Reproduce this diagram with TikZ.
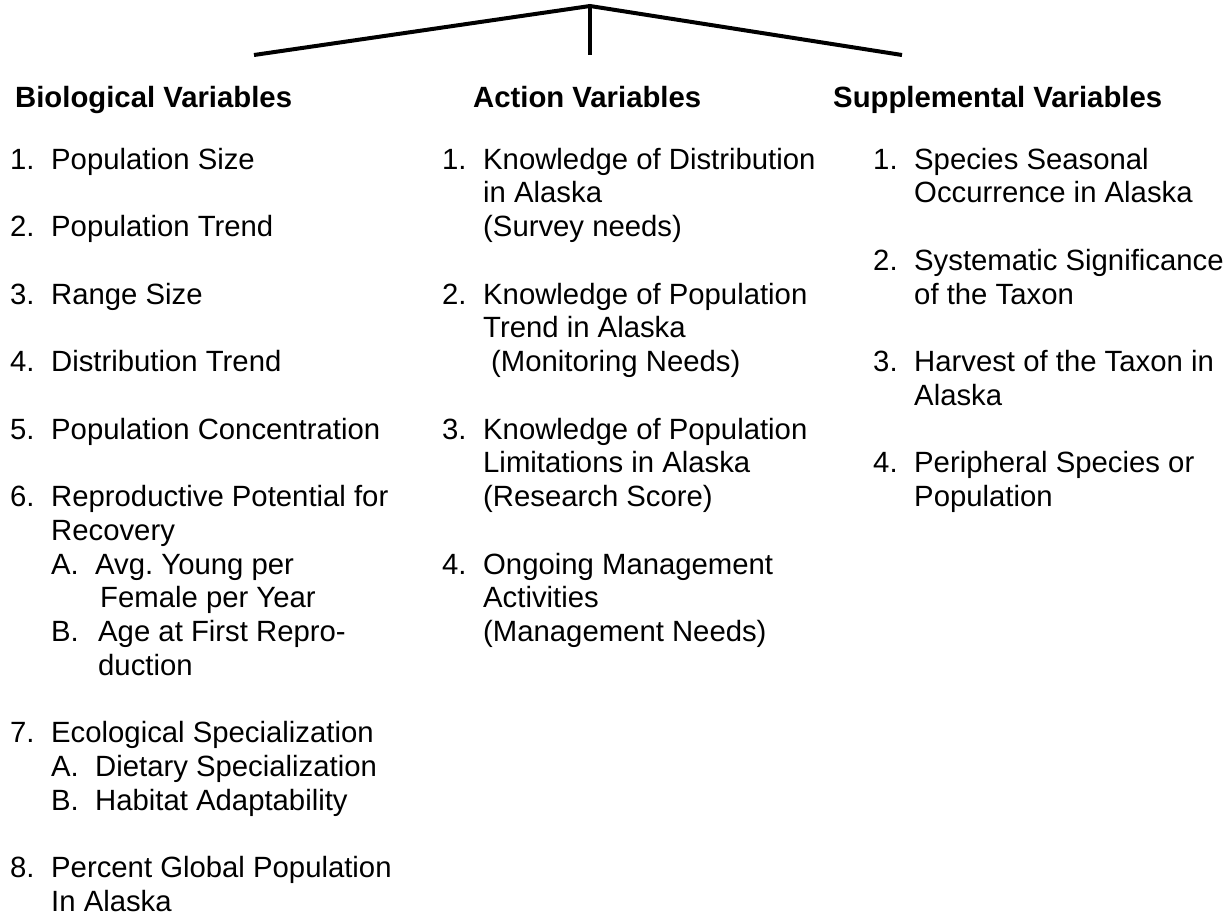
\documentclass[tikz,border=0pt]{standalone}
\usepackage{fontspec}
\setmainfont{Liberation Sans}
\usepackage{tikz}
\usetikzlibrary{positioning}
\frenchspacing

% number in a fixed-width box, then the lines of the entry
\newcommand{\numitem}[2]{\makebox[41pt][l]{#1}\begin{tabular}[t]{@{}l@{}}#2\end{tabular}}
\newcommand{\letteritem}[3]{\makebox[#1][l]{#2}#3}

\begin{document}
\begin{tikzpicture}[
    x=1pt, y=-1pt,
    every node/.style={font=\fontsize{29.3pt}{33.75pt}\selectfont, inner sep=0pt, anchor=base west},
    heading/.style={font=\fontsize{29.3pt}{33.75pt}\selectfont\bfseries},
    varitem/.style={align=left},
    branch/.style={line width=4pt, line cap=butt, line join=miter}
]
    \useasboundingbox[fill=white] (0,0) rectangle (1232,916);

    % === TREE AT THE TOP ===
    \coordinate (apex) at (590,6);
    \coordinate (bioend) at (254,55);
    \coordinate (actend) at (590,55);
    \coordinate (supend) at (902,55);
    \draw[branch] (bioend) -- (apex) -- (supend);
    \draw[line width=3.5pt] (apex) -- (actend);

    % === COLUMN HEADINGS ===
    \node[heading] (bio) at (15,107) {Biological Variables};
    \node[heading] (act) at (473,107) {Action Variables};
    \node[heading] (sup) at (833,107) {Supplemental Variables};

    % === BIOLOGICAL VARIABLES ===
    \node[varitem] (bio1) at (10,169) {\numitem{1.}{Population Size}};
    \node[varitem] (bio2) at (10,236.5) {\numitem{2.}{Population Trend}};
    \node[varitem] (bio3) at (10,304) {\numitem{3.}{Range Size}};
    \node[varitem] (bio4) at (10,371.5) {\numitem{4.}{Distribution Trend}};
    \node[varitem] (bio5) at (10,439) {\numitem{5.}{Population Concentration}};
    \node[varitem] (bio6) at (10,506.5) {\numitem{6.}{Reproductive Potential for\\
        Recovery\\
        \letteritem{44pt}{A.}{Avg. Young per}\\
        \hspace{49pt}Female per Year\\
        \letteritem{47pt}{B.}{Age at First Repro-}\\
        \hspace{47pt}duction}};
    \node[varitem] (bio7) at (10,742.75) {\numitem{7.}{Ecological Specialization\\
        \letteritem{44pt}{A.}{Dietary Specialization}\\
        \letteritem{44pt}{B.}{Habitat Adaptability}}};
    \node[varitem] (bio8) at (10,877.75) {\numitem{8.}{Percent Global Population\\
        In Alaska}};

    % === ACTION VARIABLES ===
    \node[varitem] (act1) at (442,169) {\numitem{1.}{Knowledge of Distribution\\
        in Alaska\\
        (Survey needs)}};
    \node[varitem] (act2) at (442,304) {\numitem{2.}{Knowledge of Population\\
        Trend in Alaska\\
        \hspace{8pt}(Monitoring Needs)}};
    \node[varitem] (act3) at (442,439) {\numitem{3.}{Knowledge of Population\\
        Limitations in Alaska\\
        (Research Score)}};
    \node[varitem] (act4) at (442,574) {\numitem{4.}{Ongoing Management\\
        Activities\\
        (Management Needs)}};

    % === SUPPLEMENTAL VARIABLES ===
    \node[varitem] (sup1) at (873,169) {\numitem{1.}{Species Seasonal\\
        Occurrence in Alaska}};
    \node[varitem] (sup2) at (873,270.25) {\numitem{2.}{Systematic Significance\\
        of the Taxon}};
    \node[varitem] (sup3) at (873,371.5) {\numitem{3.}{Harvest of the Taxon in\\
        Alaska}};
    \node[varitem] (sup4) at (873,472.75) {\numitem{4.}{Peripheral Species or\\
        Population}};
\end{tikzpicture}
\end{document}
